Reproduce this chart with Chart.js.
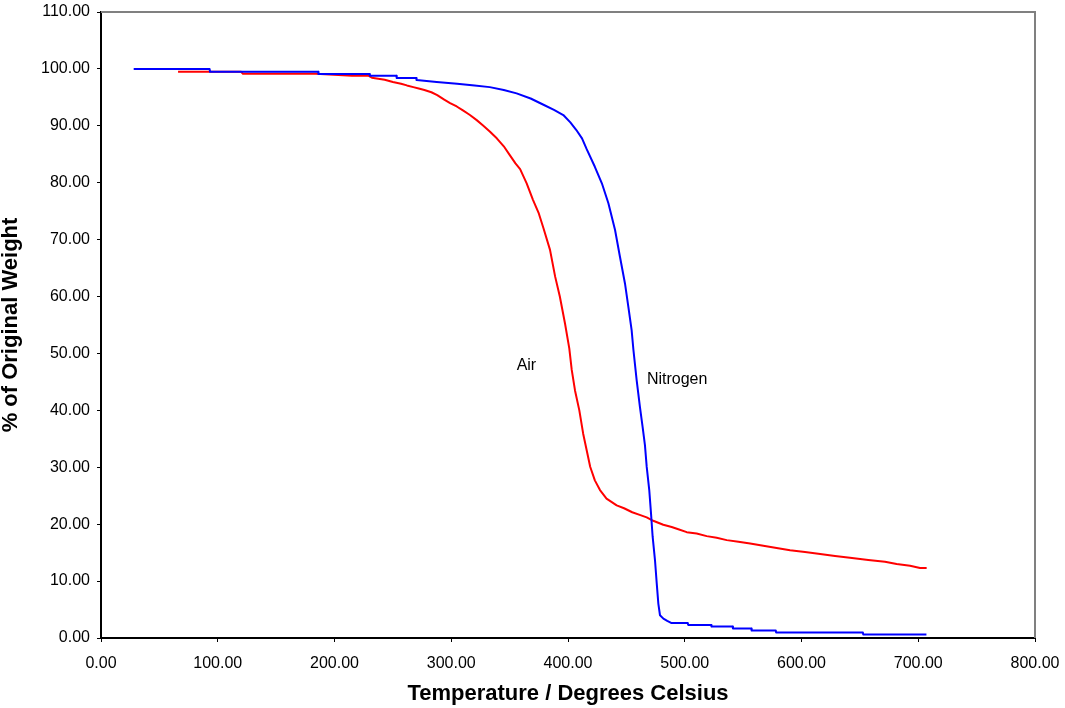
<!DOCTYPE html>
<html>
<head>
<meta charset="utf-8">
<script src="https://cdn.jsdelivr.net/npm/chart.js@4.4.1/dist/chart.umd.min.js"></script>
<style>
  html, body { margin: 0; padding: 0; background: #fff; }
  #wrap { width: 1065px; height: 708px; }
</style>
</head>
<body>
<div id="wrap"><canvas id="tga"></canvas></div>
<script>
// TGA curves: temperature (deg C) and % of original weight
const airTemp = [66, 120, 121.6, 184, 215, 229, 232, 243, 250, 257, 262, 267.5, 273, 277, 283, 288,
  294, 299, 304.7, 310, 316, 321.8, 327, 333, 339, 345, 350, 355, 359, 364.6, 370, 375, 379, 384.6,
  389, 393, 397.4, 401.1, 403.2, 406, 409.7, 413, 416, 419, 423, 427.4, 433, 441.7, 448, 455, 462,
  467.4, 473, 481.6, 488.8, 494.5, 501.7, 510.2, 518.8, 527.4, 536, 546, 556, 567.3, 578.7, 590.2,
  603, 614.4, 628.7, 641.5, 657.2, 671.5, 681.5, 693, 701.5, 707.2];
const airWeight = [99.5, 99.5, 99.15, 99.15, 98.8, 98.8, 98.45, 98.1, 97.7, 97.4, 97.1, 96.8, 96.5, 96.3, 95.9, 95.4,
  94.6, 94.0, 93.4, 92.7, 91.9, 91.0, 90.1, 89.0, 87.8, 86.4, 84.9, 83.4, 82.4, 79.9, 77.0, 74.6, 72.0, 68.2,
  63.5, 60.0, 55.3, 50.9, 47.1, 43.5, 40.0, 35.9, 33.0, 30.1, 27.7, 26.0, 24.5, 23.3, 22.8, 22.1, 21.6,
  21.2, 20.6, 19.9, 19.5, 19.1, 18.6, 18.35, 17.9, 17.6, 17.2, 16.9, 16.6, 16.2, 15.8, 15.4,
  15.1, 14.8, 14.4, 14.1, 13.7, 13.4, 13.0, 12.7, 12.3, 12.3];

const n2Temp = [28, 93, 93.4, 186, 186.3, 230, 230.3, 253, 253.3, 270, 270.3, 287.5, 305, 320, 333, 345,
  356, 368, 379, 388, 396, 402, 407, 412, 416, 423, 429, 434.6, 440.3, 444.5, 448.8, 451.7, 454.5, 456,
  458.8, 461.6, 463.9, 465.9, 467.4, 469.6, 471.1, 472.5, 474.5, 476, 477.4, 478.8, 481.7, 485,
  488.3, 502.6, 502.9, 522.6, 522.9, 541, 541.3, 557, 557.3, 578, 578.3, 652.6, 652.9, 707];
const n2Weight = [100.0, 100.0, 99.5, 99.5, 99.1, 99.1, 98.8, 98.8, 98.4, 98.4, 98.05, 97.7, 97.4, 97.1, 96.8, 96.3,
  95.7, 94.8, 93.7, 92.8, 91.9, 90.6, 89.3, 87.8, 85.9, 82.8, 79.9, 76.4, 71.7, 67.0, 62.3, 58.2, 54.1, 50.7,
  45.3, 40.6, 37.1, 33.9, 30.1, 26.0, 21.9, 17.8, 13.7, 9.6, 6.0, 4.0, 3.4, 3.0,
  2.65, 2.65, 2.3, 2.3, 2.0, 2.0, 1.67, 1.67, 1.3, 1.3, 0.95, 0.95, 0.6, 0.6];

// in-plot labels, anchored in data units (left edge, middle)
const seriesLabels = ['Air', 'Nitrogen'];
const labelTemp = [356, 467.6];
const labelWeight = [47.8, 45.4];

const FONT = '"Liberation Sans", Arial, Helvetica, sans-serif';

function toPoints(xs, ys) {
  return xs.map((x, i) => ({ x, y: ys[i] }));
}

// gray top/right frame like the original spreadsheet plot
const framePlugin = {
  id: 'frame',
  beforeDatasetsDraw(chart) {
    const { ctx, chartArea: a } = chart;
    ctx.save();
    ctx.strokeStyle = '#808080';
    ctx.lineWidth = 2;
    ctx.beginPath();
    ctx.moveTo(a.left, a.top);
    ctx.lineTo(a.right, a.top);
    ctx.lineTo(a.right, a.bottom);
    ctx.stroke();
    ctx.restore();
  }
};

const labelPlugin = {
  id: 'seriesLabels',
  afterDatasetsDraw(chart) {
    const { ctx, scales } = chart;
    ctx.save();
    ctx.fillStyle = '#000';
    ctx.font = '16px ' + FONT;
    ctx.textAlign = 'left';
    ctx.textBaseline = 'middle';
    seriesLabels.forEach((txt, i) => {
      ctx.fillText(txt, scales.x.getPixelForValue(labelTemp[i]), scales.y.getPixelForValue(labelWeight[i]));
    });
    ctx.restore();
  }
};

const tickFont = { family: FONT, size: 16 };
const titleFont = { family: FONT, size: 22, weight: 'bold', lineHeight: 1 };

new Chart(document.getElementById('tga'), {
  type: 'line',
  data: {
    datasets: [{
      label: 'Air',
      data: toPoints(airTemp, airWeight),
      borderColor: '#ff0000',
      borderWidth: 2,
      borderJoinStyle: 'round',
      pointRadius: 0,
      tension: 0,
      fill: false,
      order: 1
    }, {
      label: 'Nitrogen',
      data: toPoints(n2Temp, n2Weight),
      borderColor: '#0000ff',
      borderWidth: 2,
      borderJoinStyle: 'round',
      pointRadius: 0,
      tension: 0,
      fill: false,
      order: 0
    }]
  },
  options: {
    responsive: true,
    maintainAspectRatio: false,
    animation: false,
    layout: { padding: { top: 12, right: 30, left: 0, bottom: 0 } },
    plugins: { legend: { display: false }, tooltip: { enabled: false } },
    scales: {
      x: {
        type: 'linear',
        min: 0, max: 800,
        afterFit(scale) {
          scale.height = 70;
          scale.paddingLeft = 0;
          scale.paddingRight = 0;
        },
        ticks: { stepSize: 100, color: '#000', font: tickFont, padding: 12, maxRotation: 0,
          callback: v => v.toFixed(2) },
        grid: { drawOnChartArea: false, drawTicks: true, tickLength: 4, color: '#000' },
        border: { color: '#000', width: 2 },
        title: { display: true, text: 'Temperature / Degrees Celsius', color: '#000', font: titleFont,
          padding: { top: 0, bottom: 3 } }
      },
      y: {
        min: 0, max: 110,
        afterFit(scale) {
          scale.width = 101;
          scale.paddingTop = 0;
          scale.paddingBottom = 0;
        },
        ticks: { stepSize: 10, color: '#000', font: tickFont, padding: 7,
          callback: v => v.toFixed(2) },
        grid: { drawOnChartArea: false, drawTicks: true, tickLength: 4, color: '#000' },
        border: { color: '#000', width: 2 },
        title: { display: true, text: '% of Original Weight', color: '#000', font: titleFont,
          padding: { top: 0, bottom: 0 } }
      }
    }
  },
  plugins: [framePlugin, labelPlugin]
});
</script>
</body>
</html>
